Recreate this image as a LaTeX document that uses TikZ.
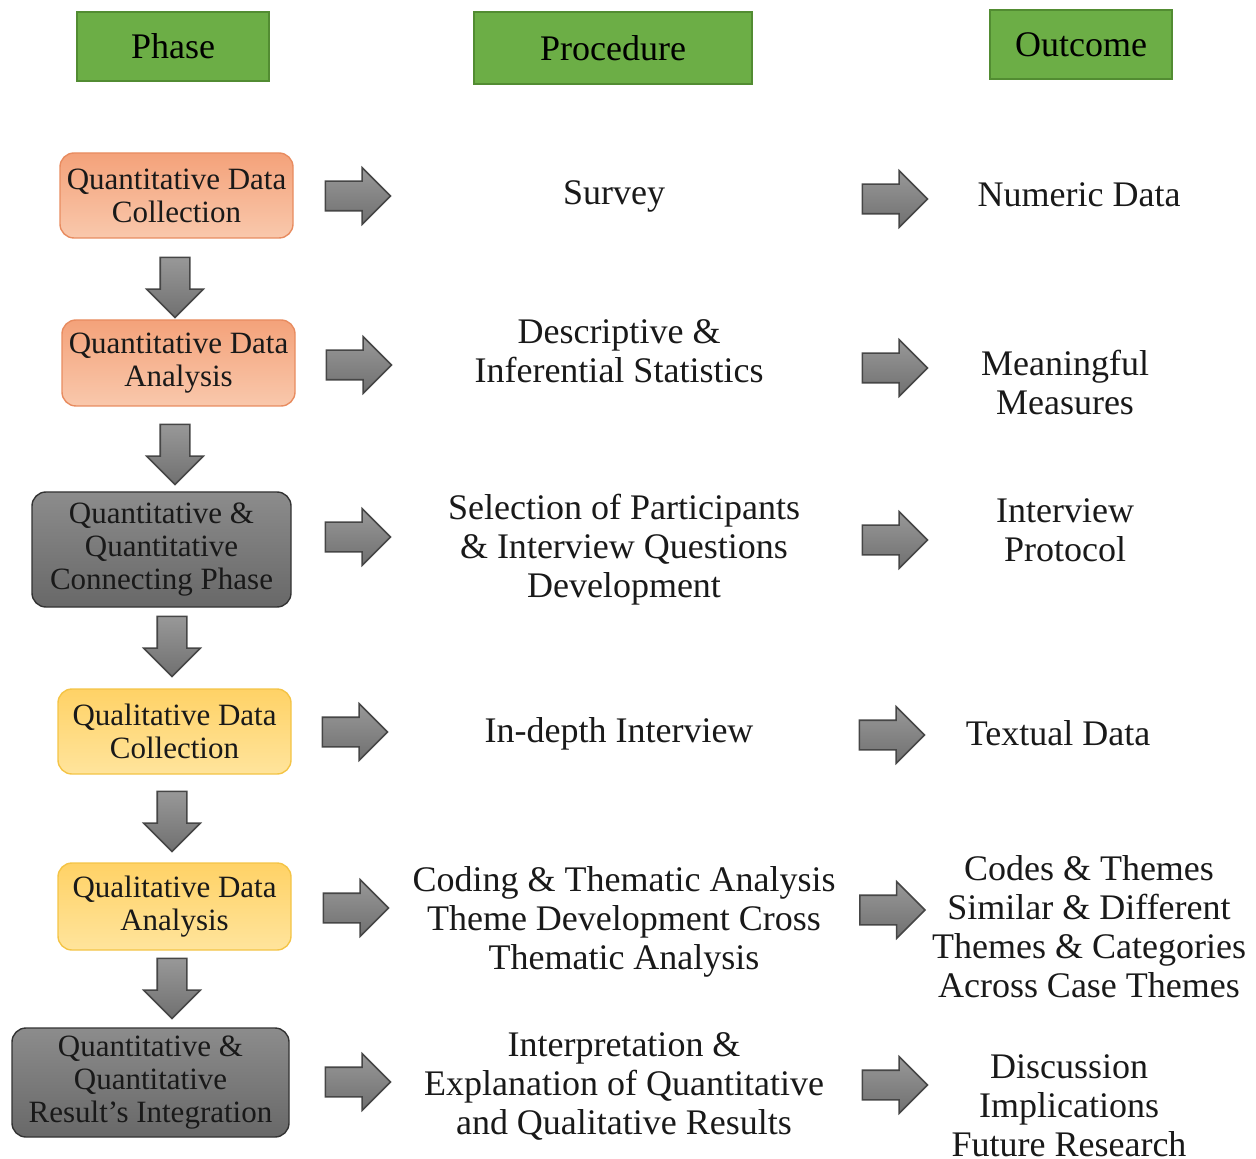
\documentclass[tikz,border=0pt]{standalone}
\usepackage{fontspec}
\setmainfont{Liberation Serif}
\usepackage{tikz}
\usetikzlibrary{shapes.arrows, positioning}
\definecolor{HeadGreen}{RGB}{108, 174, 70}
\definecolor{HeadEdge}{RGB}{82, 140, 50}
\definecolor{QuantTop}{RGB}{244, 162, 122}
\definecolor{QuantBot}{RGB}{249, 200, 172}
\definecolor{QuantEdge}{RGB}{232, 140, 96}
\definecolor{QualTop}{RGB}{255, 210, 102}
\definecolor{QualBot}{RGB}{255, 228, 156}
\definecolor{QualEdge}{RGB}{244, 196, 70}
\definecolor{MixTop}{RGB}{140, 140, 140}
\definecolor{MixBot}{RGB}{104, 104, 104}
\definecolor{ArrowTop}{RGB}{152, 152, 152}
\definecolor{ArrowBot}{RGB}{112, 112, 112}
\definecolor{ArrowEdge}{RGB}{70, 70, 70}
\def\pxl{0.5pt}

\begin{document}
\begin{tikzpicture}[
  x=0.5pt, y=-0.5pt,
  head/.style={
    rectangle, draw=HeadEdge, fill=HeadGreen, line width=0.6pt,
    inner sep=0pt, font=\fontsize{18}{19.5}\selectfont
  },
  phasebox/.style={
    rectangle, rounded corners=7pt, line width=0.7pt,
    inner sep=0pt, align=center, text=black!90,
    font=\fontsize{15.5}{16.5}\selectfont
  },
  quant/.style={phasebox, draw=QuantEdge, top color=QuantTop, bottom color=QuantBot},
  qual/.style={phasebox, draw=QualEdge, top color=QualTop, bottom color=QualBot},
  mixed/.style={phasebox, draw=black!80, top color=MixTop, bottom color=MixBot},
  txt/.style={align=center, inner sep=0pt, text=black!90, font=\fontsize{18}{19.5}\selectfont},
  rarr/.style={
    single arrow, draw=ArrowEdge, line width=0.8pt,
    top color=ArrowTop, bottom color=ArrowBot,
    inner sep=7pt, minimum height=32.5pt,
    single arrow head extend=6.75pt
  },
  darr/.style={rarr, minimum height=30pt, shape border rotate=270}
]
  \useasboundingbox (0,0) rectangle (1256,1159);

  % column headers
  \node[head, minimum width=192*\pxl, minimum height=69*\pxl] (hphase) at (173,46.5)  {Phase};
  \node[head, minimum width=278*\pxl, minimum height=72*\pxl] (hproc)  at (613,48)    {Procedure};
  \node[head, minimum width=182*\pxl, minimum height=69*\pxl] (hout)   at (1081,44.5) {Outcome};

  % phases
  \node[quant, minimum width=233*\pxl, minimum height=85*\pxl]  (qndc) at (176.5,195.5) {Quantitative Data\\Collection};
  \node[quant, minimum width=233*\pxl, minimum height=86*\pxl]  (qnda) at (178.5,363)   {Quantitative Data\\Analysis};
  \node[mixed, minimum width=259*\pxl, minimum height=115*\pxl] (conn) at (161.5,549.5) {Quantitative \&\\Quantitative\\Connecting Phase};
  \node[qual,  minimum width=233*\pxl, minimum height=85*\pxl]  (qldc) at (174.5,731.5) {Qualitative Data\\Collection};
  \node[qual,  minimum width=233*\pxl, minimum height=87*\pxl]  (qlda) at (174.5,906.5) {Qualitative Data\\Analysis};
  \node[mixed, minimum width=277*\pxl, minimum height=109*\pxl] (integ) at (150.5,1082.5) {Quantitative \&\\Quantitative\\Result’s Integration};

  % procedures
  \node[txt] (psurv)  at (614,196)  {Survey};
  \node[txt] (pstat)  at (619,351)  {Descriptive \&\\Inferential Statistics};
  \node[txt] (psel)   at (624,550)  {Selection of Participants\\\& Interview Questions\\Development};
  \node[txt] (pint)   at (619,734)  {In-depth Interview};
  \node[txt] (pcode)  at (624,922)  {Coding \& Thematic Analysis\\Theme Development Cross\\Thematic Analysis};
  \node[txt] (pexpl)  at (624,1086) {Interpretation \&\\Explanation of Quantitative\\and Qualitative Results};

  % outcomes
  \node[txt] (onum)   at (1079,195)  {Numeric Data};
  \node[txt] (omeas)  at (1065,383)  {Meaningful\\Measures};
  \node[txt] (oprot)  at (1065,530)  {Interview\\Protocol};
  \node[txt] (otext)  at (1058,733)  {Textual Data};
  \node[txt] (othem)  at (1089,927)  {Codes \& Themes\\Similar \& Different\\Themes \& Categories\\Across Case Themes};
  \node[txt] (odisc)  at (1069,1106) {Discussion\\Implications\\Future Research};

  % block arrows
  \foreach \x/\y [count=\i] in {350.5/196, 351.5/365, 350.5/537, 347.5/732, 348.5/908, 350.5/1082}
    \node[rarr] (ra\i) at (\x,\y) {};
  \foreach \x/\y [count=\i] in {887.5/199, 887.5/368, 887.5/540, 884.5/735, 885/910, 887.5/1085}
    \node[rarr] (rb\i) at (\x,\y) {};
  \foreach \x/\y [count=\i] in {175/280, 175/447, 172/639, 172/814, 172/981}
    \node[darr] (da\i) at (\x,\y) {};
\end{tikzpicture}
\end{document}
